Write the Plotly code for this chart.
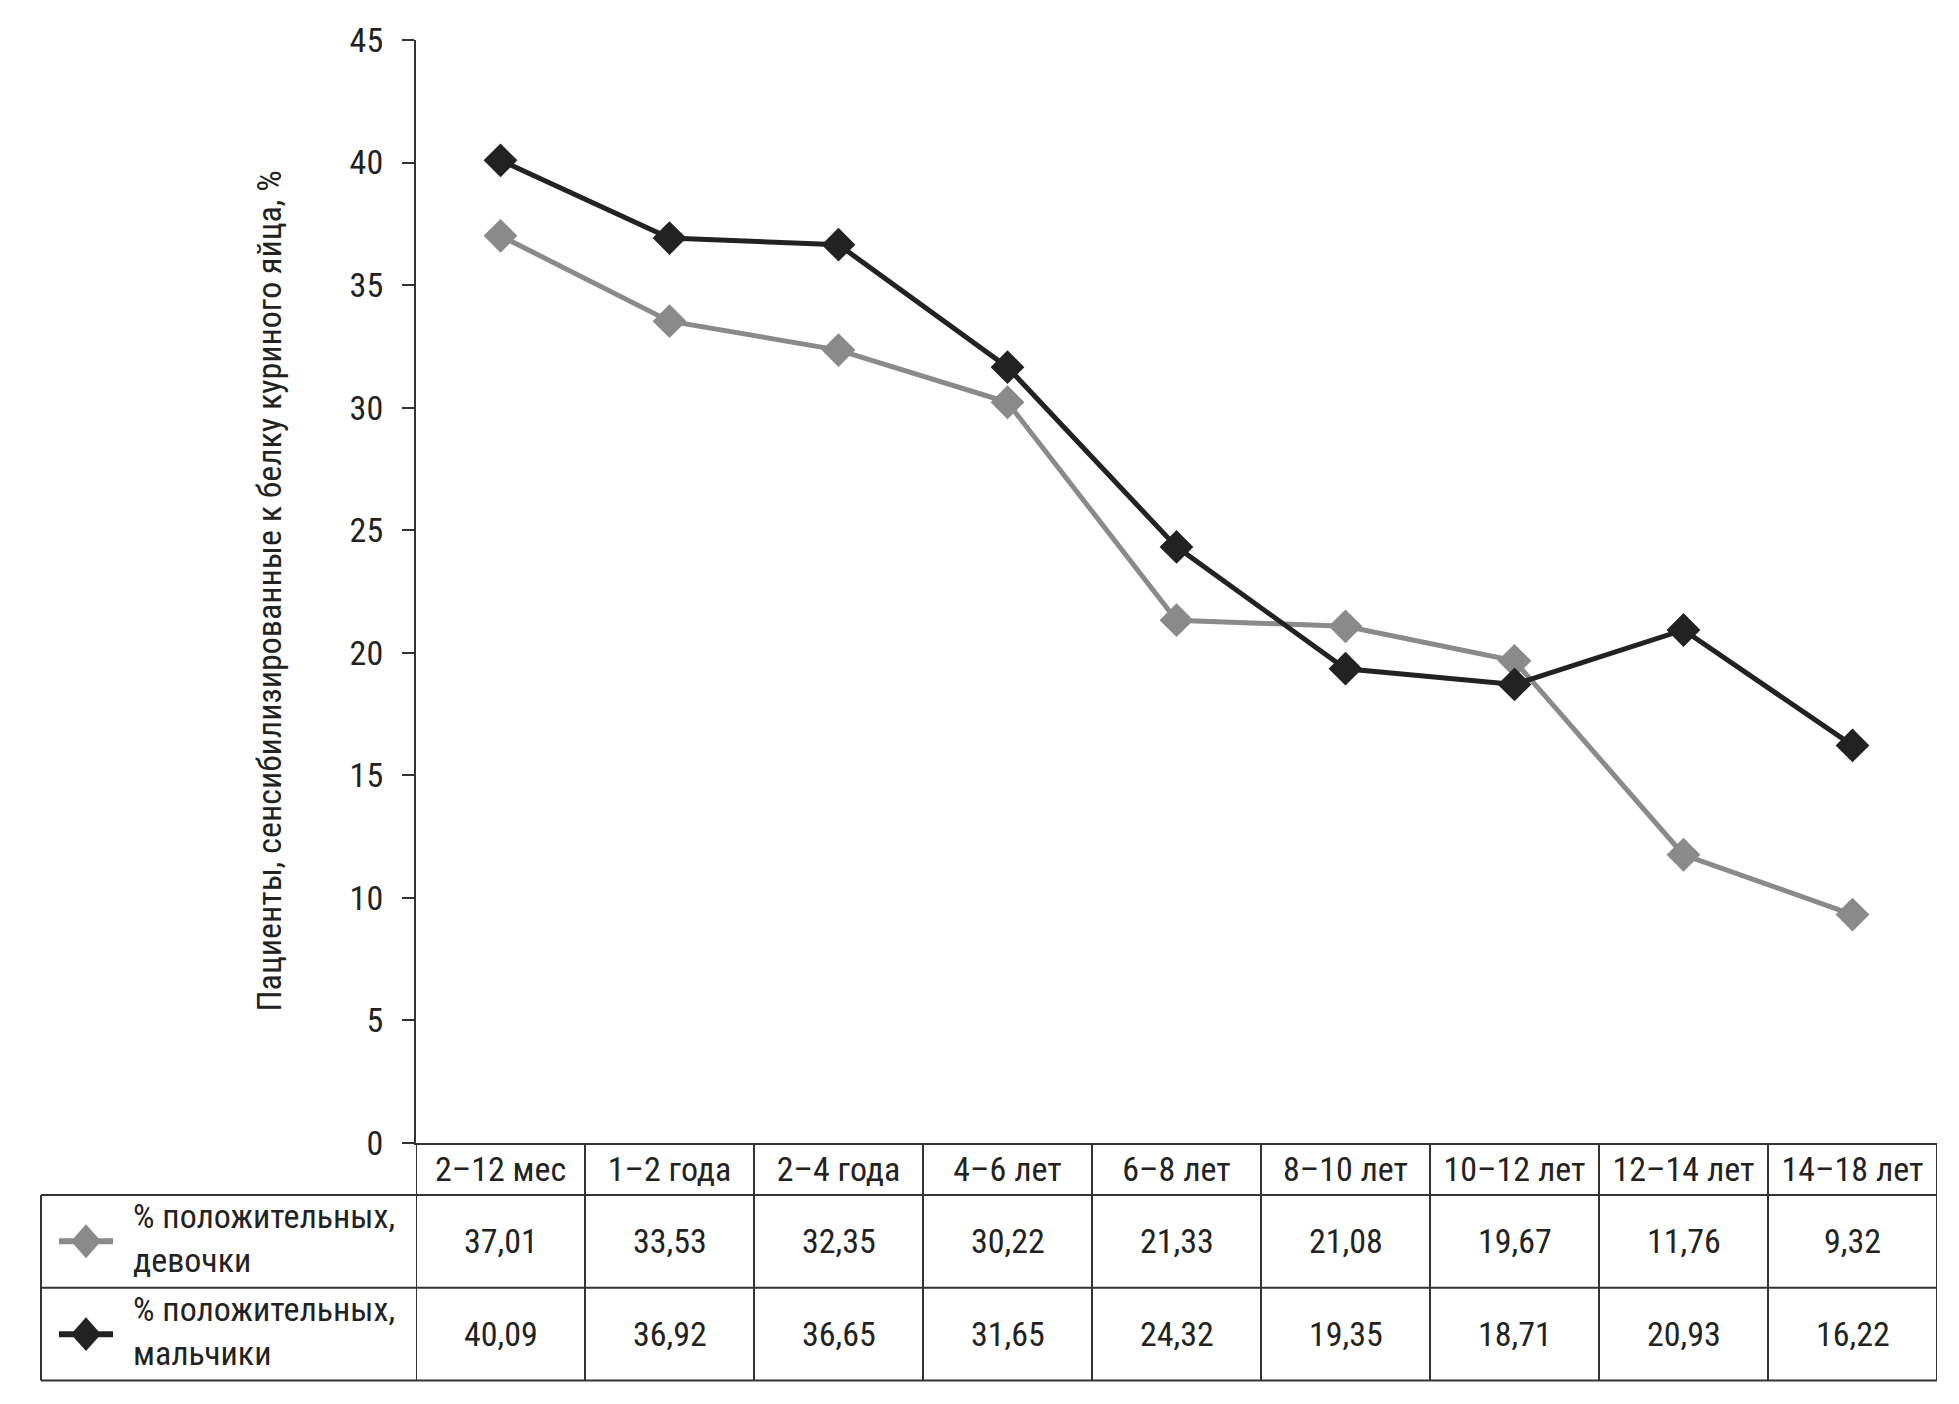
import plotly.graph_objects as go

categories = ["2–12 мес", "1–2 года", "2–4 года", "4–6 лет", "6–8 лет",
              "8–10 лет", "10–12 лет", "12–14 лет", "14–18 лет"]
girls = [37.01, 33.53, 32.35, 30.22, 21.33, 21.08, 19.67, 11.76, 9.32]
boys = [40.09, 36.92, 36.65, 31.65, 24.32, 19.35, 18.71, 20.93, 16.22]
girls_name = ["% положительных,", "девочки"]
boys_name = ["% положительных,", "мальчики"]
y_title = "Пациенты, сенсибилизированные к белку куриного яйца, %"
y_ticks = [0, 5, 10, 15, 20, 25, 30, 35, 40, 45]

FONT = "Roboto Condensed, Liberation Sans Narrow, sans-serif"
BLACK = "#222222"
GRAY = "#8a8a8a"
LINE = "#333333"
FS = 34

W, H = 1959, 1404
ML, MR, MT, MB = 408, 30, 30, 269
PW, PH = W - ML - MR, H - MT - MB


def px_x(p):
    return (p - ML) / PW


def px_y(p):
    return (H - MB - p) / PH


fig = go.Figure()
fig.add_trace(go.Scatter(x=categories, y=girls, mode="lines+markers", name="девочки",
                         line=dict(color=GRAY, width=5),
                         marker=dict(symbol="diamond", size=26, color=GRAY),
                         showlegend=False))
fig.add_trace(go.Scatter(x=categories, y=boys, mode="lines+markers", name="мальчики",
                         line=dict(color=BLACK, width=5),
                         marker=dict(symbol="diamond", size=26, color=BLACK),
                         showlegend=False))

fig.update_layout(
    width=W, height=H,
    margin=dict(l=ML, r=MR, t=MT, b=MB),
    paper_bgcolor="white", plot_bgcolor="white",
    font=dict(family=FONT, size=FS, color="#222222"),
    xaxis=dict(type="category", range=[-0.5, len(categories) - 0.5],
               showgrid=False, zeroline=False, showline=True, linecolor=LINE, linewidth=2,
               ticks="", tickfont=dict(size=FS), ticklabelstandoff=-5),
    yaxis=dict(range=[0, 45], tickvals=y_ticks, showgrid=False, zeroline=False,
               showline=True, linecolor=LINE, linewidth=2,
               ticks="outside", ticklen=12, tickwidth=2, tickcolor=LINE,
               tickfont=dict(size=FS), ticklabelstandoff=12),
)

# y-axis title
fig.add_annotation(text=y_title, textangle=-90, xref="paper", yref="paper",
                   x=px_x(260), y=0.5, xanchor="center", yanchor="middle",
                   showarrow=False, font=dict(size=FS))

# table geometry (pixels)
header_bottom, row1_bottom, row2_bottom = 1187, 1280, 1373
table_left = 33
shapes = []
for yb in (header_bottom, row1_bottom, row2_bottom):
    shapes.append(dict(type="line", xref="paper", yref="paper",
                       x0=px_x(table_left), x1=1, y0=px_y(yb), y1=px_y(yb),
                       line=dict(color=LINE, width=2)))
for i in range(len(categories) + 1):
    shapes.append(dict(type="line", xref="x", yref="paper",
                       x0=i - 0.5, x1=i - 0.5, y0=0, y1=px_y(row2_bottom),
                       line=dict(color=LINE, width=2)))
shapes.append(dict(type="line", xref="paper", yref="paper",
                   x0=px_x(table_left), x1=px_x(table_left),
                   y0=px_y(header_bottom), y1=px_y(row2_bottom),
                   line=dict(color=LINE, width=2)))

rows = [(girls, GRAY, girls_name, (header_bottom + row1_bottom) / 2),
        (boys, BLACK, boys_name, (row1_bottom + row2_bottom) / 2)]
for vals, col, name, yc in rows:
    # legend key: line + diamond
    shapes.append(dict(type="line", xref="paper", yref="paper",
                       x0=px_x(51), x1=px_x(105), y0=px_y(yc), y1=px_y(yc),
                       line=dict(color=col, width=6)))
    cx, cy, rx, ry = 78, yc, 15, 17
    path = (f"M {px_x(cx - rx)} {px_y(cy)} L {px_x(cx)} {px_y(cy - ry)} "
            f"L {px_x(cx + rx)} {px_y(cy)} L {px_x(cx)} {px_y(cy + ry)} Z")
    shapes.append(dict(type="path", xref="paper", yref="paper", path=path,
                       fillcolor=col, line=dict(color=col, width=0)))
    fig.add_annotation(text="<br>".join(name), xref="paper", yref="paper", x=px_x(123),
                       y=px_y(yc - 3), xanchor="left", yanchor="middle",
                       align="left", showarrow=False, font=dict(size=FS))
    for c, v in zip(categories, vals):
        fig.add_annotation(text=f"{v:.2f}".replace(".", ","), xref="x", yref="paper",
                           x=c, y=px_y(yc), xanchor="center", yanchor="middle",
                           showarrow=False, font=dict(size=FS))

fig.update_layout(shapes=shapes)
fig.write_html("out.html")
